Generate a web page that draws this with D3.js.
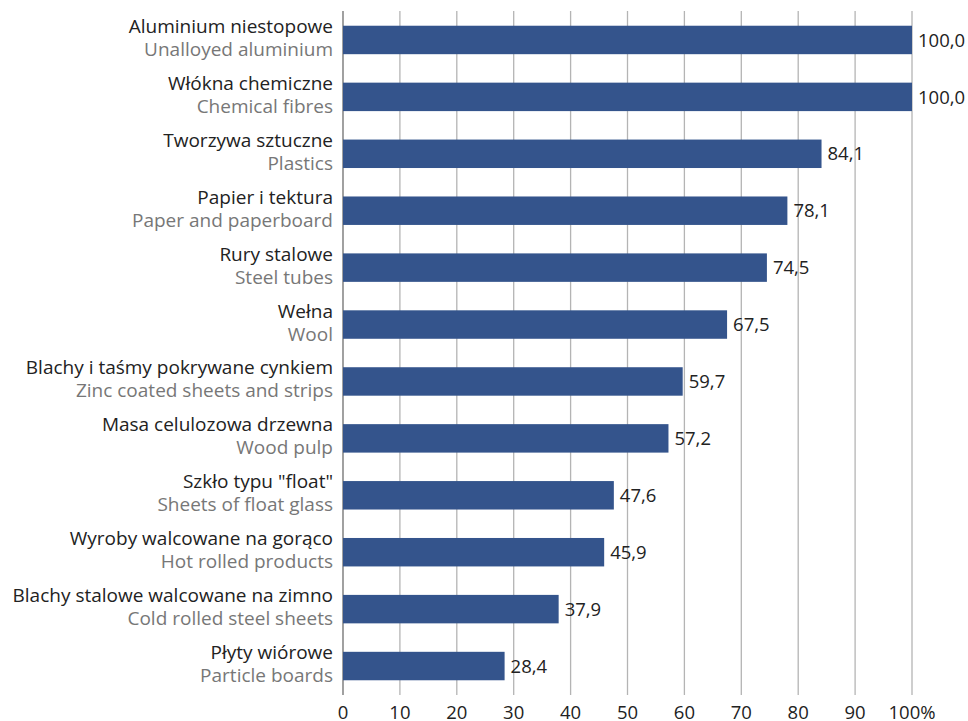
<!DOCTYPE html>
<html><head><meta charset="utf-8">
<script src="https://cdn.jsdelivr.net/npm/d3@7"></script>
<style>body{margin:0;background:#fff;} svg{display:block;}</style>
</head><body>
<svg id="c" width="968" height="721"></svg>
<script>
const categoriesPL = ["Aluminium niestopowe","Włókna chemiczne","Tworzywa sztuczne","Papier i tektura","Rury stalowe","Wełna","Blachy i taśmy pokrywane cynkiem","Masa celulozowa drzewna","Szkło typu \"float\"","Wyroby walcowane na gorąco","Blachy stalowe walcowane na zimno","Płyty wiórowe"];
const categoriesEN = ["Unalloyed aluminium","Chemical fibres","Plastics","Paper and paperboard","Steel tubes","Wool","Zinc coated sheets and strips","Wood pulp","Sheets of float glass","Hot rolled products","Cold rolled steel sheets","Particle boards"];
const values = [100.0,100.0,84.1,78.1,74.5,67.5,59.7,57.2,47.6,45.9,37.9,28.4];
const tickValues = [0,10,20,30,40,50,60,70,80,90,100];
const tickLabels = ["0","10","20","30","40","50","60","70","80","90","100%"];

const data = values.map((v,i)=>({pl:categoriesPL[i], en:categoriesEN[i], v}));
const svg = d3.select("#c");
const font = "'Open Sans', sans-serif";
const x = d3.scaleLinear().domain([0,100]).range([343,912]);
const y = d3.scaleBand().domain(d3.range(data.length)).range([11.5,694.5]).paddingInner(0.5).paddingOuter(0.25);

// gridlines
svg.append("g").selectAll("line").data(tickValues).join("line")
  .attr("x1",d=>x(d)).attr("x2",d=>x(d)).attr("y1",11).attr("y2",695)
  .attr("stroke",d=>d===0?"#6e6e6e":"#b4b4b4").attr("stroke-width",1.3);

// bars
svg.append("g").selectAll("rect").data(data).join("rect")
  .attr("x",x(0)).attr("y",(d,i)=>y(i)).attr("width",d=>x(d.v)-x(0)).attr("height",y.bandwidth())
  .attr("fill","#34548c");

// value labels
svg.append("g").selectAll("text").data(data).join("text")
  .attr("x",d=>x(d.v)+6).attr("y",(d,i)=>y(i)+y.bandwidth()/2).attr("dy","0.36em")
  .attr("font-family",font).attr("font-size",18.5).attr("fill","#222")
  .text(d=>d.v.toFixed(1).replace(".",","));

// category labels
const lab = svg.append("g").selectAll("g").data(data).join("g");
lab.append("text").attr("x",333).attr("y",(d,i)=>y(i)+y.bandwidth()/2-7)
  .attr("text-anchor","end").attr("font-family",font).attr("font-size",19).attr("fill","#222").text(d=>d.pl);
lab.append("text").attr("x",333).attr("y",(d,i)=>y(i)+y.bandwidth()/2+16)
  .attr("text-anchor","end").attr("font-family",font).attr("font-size",19).attr("fill","#777").text(d=>d.en);

// x axis tick labels
svg.append("g").selectAll("text").data(tickValues).join("text")
  .attr("x",d=>x(d)).attr("y",719).attr("text-anchor","middle")
  .attr("font-family",font).attr("font-size",18.5).attr("fill","#222")
  .text((d,i)=>tickLabels[i]);
</script>
</body></html>
